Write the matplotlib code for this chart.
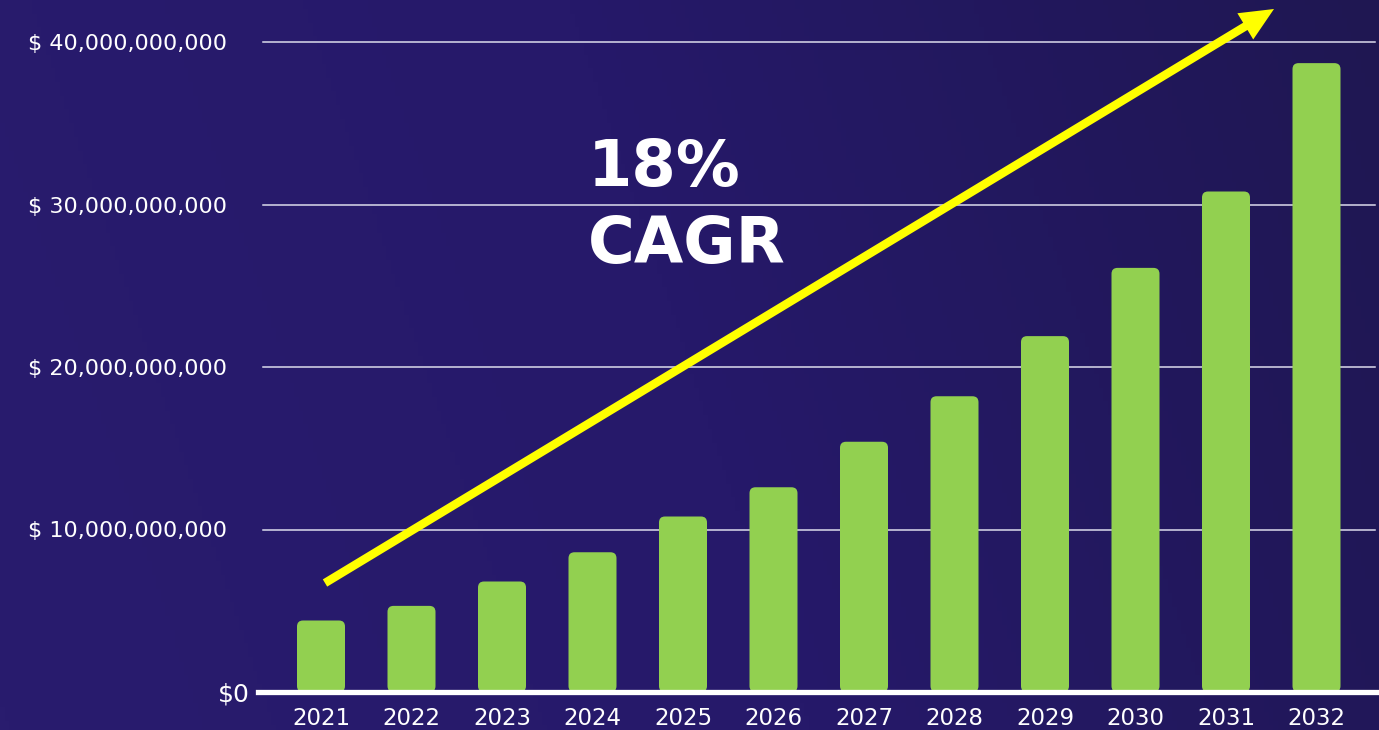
import numpy as np
import matplotlib
matplotlib.use("Agg")
import matplotlib.pyplot as plt
from matplotlib.patches import FancyBboxPatch
from matplotlib.colors import LinearSegmentedColormap

# data (market size, billions USD)
years = ["2021", "2022", "2023", "2024", "2025", "2026",
         "2027", "2028", "2029", "2030", "2031", "2032"]
values = [4.4, 5.3, 6.8, 8.6, 10.8, 12.6, 15.4, 18.2, 21.9, 26.1, 30.8, 38.7]
ytick_vals = [0, 10, 20, 30, 40]
ytick_labels = ["$0", "$ 10,000,000,000", "$ 20,000,000,000",
                "$ 30,000,000,000", "$ 40,000,000,000"]

W, H = 1379, 730
fig = plt.figure(figsize=(W / 100, H / 100), dpi=100)

# background gradient
bg = fig.add_axes([0, 0, 1, 1])
gx, gy = np.meshgrid(np.linspace(0, 1, 300), np.linspace(0, 1, 160))
grad = 0.85 * gx + 0.15 * (1 - gy)
cmap = LinearSegmentedColormap.from_list("bg", ["#291c6e", "#26196a", "#1f1752"])
bg.imshow(grad, cmap=cmap, aspect="auto", extent=[0, 1, 0, 1], origin="upper")
bg.set_axis_off()

# main axes, placed in pixels
left_px, bottom_px, right_px = 258, 38, 1379
ax = fig.add_axes([left_px / W, bottom_px / H, (right_px - left_px) / W, (H - bottom_px) / H])
ax.set_facecolor("none")

px_per_unit_x = 90.5
px_per_unit_y = 16.25
x0 = 321 - left_px
ax.set_xlim(-x0 / px_per_unit_x, (right_px - left_px - x0) / px_per_unit_x)
ax.set_ylim(0, (H - bottom_px) / px_per_unit_y)

# grid lines
for v in ytick_vals[1:]:
    ax.axhline(v, xmin=5 / 1121, xmax=1117 / 1121, color="#dcdcec", lw=1.1, zorder=1)

# rounded bars
bar_w = 48 / px_per_unit_x
r = 6 / px_per_unit_x
aspect = px_per_unit_x / px_per_unit_y
for i, v in enumerate(values):
    p = FancyBboxPatch((i - bar_w / 2, 0), bar_w, v,
                       boxstyle=f"round,pad=0,rounding_size={r}",
                       mutation_aspect=aspect, fc="#92d050", ec="none", zorder=2)
    ax.add_patch(p)

# thick baseline
ax.axhline(0, color="white", lw=3.8, zorder=3, clip_on=False)

for s in ax.spines.values():
    s.set_visible(False)

ax.set_xticks(range(len(years)))
ax.set_xticklabels(years, fontsize=16.5, color="white")
ax.tick_params(axis="x", length=0, pad=11)
ax.set_yticks(ytick_vals)
ax.set_yticklabels(ytick_labels, fontsize=16, color="white")
ax.tick_params(axis="y", length=0, pad=22)
ax.yaxis.get_major_ticks()[0].set_pad(6)
ax.get_yticklabels()[0].set_fontsize(18)

# CAGR text
ax.text(588 / W, 1 - 186 / H, "18%", transform=fig.transFigure, color="white",
        fontsize=46, fontweight="bold", ha="left", va="baseline")
ax.text(588 / W, 1 - 263 / H, "CAGR", transform=fig.transFigure, color="white",
        fontsize=46, fontweight="bold", ha="left", va="baseline")

# growth arrow
ax.annotate("", xy=(1274 / W, 1 - 9 / H), xytext=(325 / W, 1 - 583 / H),
            xycoords="figure fraction", textcoords="figure fraction",
            arrowprops=dict(arrowstyle="simple,head_length=1.15,head_width=1.05,tail_width=0.29",
                            mutation_scale=21, fc="#ffff00", ec="none",
                            shrinkA=0, shrinkB=0),
            zorder=4)

fig.savefig("out.png", dpi=100)
